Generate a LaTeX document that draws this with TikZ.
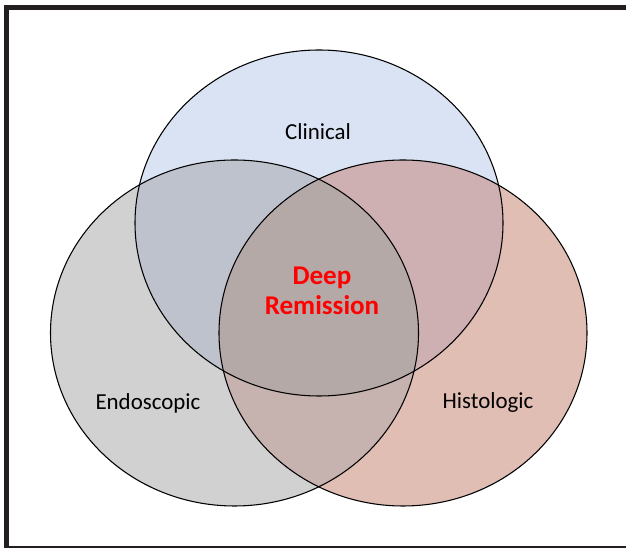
\documentclass[tikz,border=0pt]{standalone}
\usepackage{fontspec}
\setmainfont{Carlito}
\usepackage{xcolor}
\definecolor{clinBlue}{RGB}{218,227,243}
\definecolor{endoGray}{RGB}{209,209,209}
\definecolor{histPink}{RGB}{224,190,180}
\definecolor{ceMix}{RGB}{189,194,204}
\definecolor{chMix}{RGB}{206,175,178}
\definecolor{ehMix}{RGB}{198,178,174}
\definecolor{allMix}{RGB}{181,169,168}
\definecolor{frameBlack}{RGB}{35,31,32}
\tikzset{
  lbl/.style={font=\fontsize{17.2}{20}\selectfont, text=black},
  deep/.style={font=\fontsize{20.3}{22.5}\selectfont\bfseries, text=red, align=center},
  rim/.style={line width=0.8pt, draw=black}
}

\begin{document}
\begin{tikzpicture}[x=0.75pt,y=-0.75pt]
  \useasboundingbox (0,0) rectangle (626,548);
  \clip (0,0) rectangle (626,548);
  \coordinate (pC) at (319,223);
  \coordinate (pE) at (234.5,333);
  \coordinate (pH) at (403,333);
  % plain fills
  \fill[clinBlue] (pC) ellipse [x radius=138pt, y radius=129.75pt];
  \fill[endoGray] (pE) ellipse [x radius=138pt, y radius=129.75pt];
  \fill[histPink] (pH) ellipse [x radius=138pt, y radius=129.75pt];
  % overlaps
  \begin{scope}
    \clip (pC) ellipse [x radius=138pt, y radius=129.75pt];
    \fill[ceMix] (pE) ellipse [x radius=138pt, y radius=129.75pt];
    \fill[chMix] (pH) ellipse [x radius=138pt, y radius=129.75pt];
  \end{scope}
  \begin{scope}
    \clip (pE) ellipse [x radius=138pt, y radius=129.75pt];
    \fill[ehMix] (pH) ellipse [x radius=138pt, y radius=129.75pt];
    \clip (pH) ellipse [x radius=138pt, y radius=129.75pt];
    \fill[allMix] (pC) ellipse [x radius=138pt, y radius=129.75pt];
  \end{scope}
  % outlines
  \draw[rim] (pC) ellipse [x radius=138pt, y radius=129.75pt];
  \draw[rim] (pE) ellipse [x radius=138pt, y radius=129.75pt];
  \draw[rim] (pH) ellipse [x radius=138pt, y radius=129.75pt];
  % labels
  \node[lbl] (clinical) at (318,132) {Clinical};
  \node[lbl] (endoscopic) at (148,403) {Endoscopic};
  \node[lbl] (histologic) at (488,403) {Histologic};
  \node[deep] (remission) at (322,291) {Deep\\Remission};
  % frame
  \draw[frameBlack, line width=3.75pt] (660,7.5) -- (6.5,7.5) -- (6.5,548.5) -- (660,548.5);
\end{tikzpicture}
\end{document}
